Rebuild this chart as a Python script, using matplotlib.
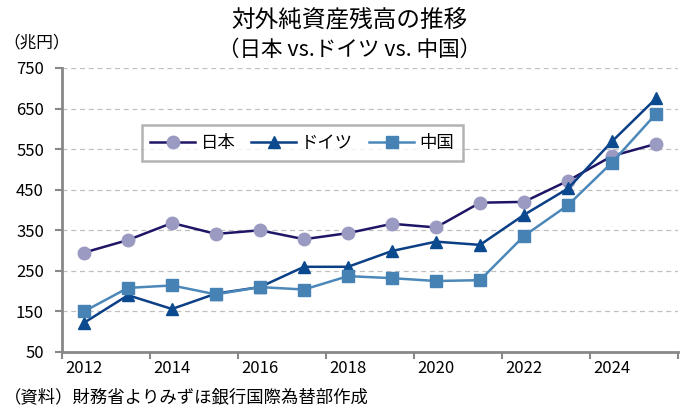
import matplotlib
matplotlib.use("Agg")
import matplotlib.pyplot as plt
from matplotlib.ticker import FixedLocator

plt.rcParams["font.family"] = ["Noto Sans CJK JP", "DejaVu Sans"]

# Data (兆円)
years = list(range(2012, 2026))
japan = [295, 326, 368, 341, 350, 328, 343, 366, 357, 418, 420, 472, 533, 563]
germany = [122, 190, 156, 194, 210, 260, 260, 299, 322, 314, 388, 453, 569, 675]
china = [150, 208, 214, 192, 210, 204, 237, 232, 225, 227, 336, 412, 517, 637]

label_years = [2012, 2014, 2016, 2018, 2020, 2022, 2024]
y_ticks = [50, 150, 250, 350, 450, 550, 650, 750]

fig = plt.figure(figsize=(6.99, 4.13), dpi=100)
ax = fig.add_axes([62 / 699, 61 / 413, 616 / 699, 284 / 413])

ax.plot(years, japan, color="#1e1566", lw=1.8, marker="o", ms=9,
        mfc="#9a9ac2", mec="#9a9ac2", label="日本", zorder=3)
ax.plot(years, germany, color="#0b3f86", lw=1.8, marker="^", ms=9,
        mfc="#0b4a8e", mec="#0b4a8e", label="ドイツ", zorder=4)
ax.plot(years, china, color="#4b88b9", lw=1.8, marker="s", ms=8,
        mfc="#4682b4", mec="#4682b4", label="中国", zorder=5)

ax.set_xlim(2011.5, 2025.5)
ax.set_ylim(50, 750)
ax.set_yticks(y_ticks)
ax.set_xticks(label_years)
ax.xaxis.set_minor_locator(FixedLocator([y - 0.5 for y in range(2012, 2027, 2)]))
ax.tick_params(axis="x", which="major", length=0, pad=6, labelsize=12)
ax.tick_params(axis="x", which="minor", length=5, width=1.5, color="#888888")
ax.tick_params(axis="y", length=5, width=1.5, color="#888888", labelsize=12, pad=8)

ax.grid(axis="y", linestyle=(0, (4, 3)), color="#c0c0c0", lw=0.9)
for s in ["top", "right"]:
    ax.spines[s].set_visible(False)
for s in ["left", "bottom"]:
    ax.spines[s].set_color("#888888")
    ax.spines[s].set_linewidth(2)

leg = ax.legend(loc="center", bbox_to_anchor=(0.39, 0.736), ncol=3, fontsize=12.5,
                frameon=True, fancybox=False, edgecolor="#a0a0a0",
                handlelength=2.6, columnspacing=0.9, handletextpad=0.3,
                borderpad=0.5)
leg.get_frame().set_linewidth(1.8)

fig.text(0.5, 0.952, "対外純資産残高の推移", ha="center", va="center", fontsize=17)
fig.text(0.5, 0.878, "（日本 vs.ドイツ vs. 中国）", ha="center", va="center", fontsize=15.5)
fig.text(0.005, 0.895, "（兆円）", ha="left", va="center", fontsize=12)
fig.text(0.005, 0.038, "（資料）財務省よりみずほ銀行国際為替部作成", ha="left",
         va="center", fontsize=12.5)

fig.savefig("out.png", dpi=100)
